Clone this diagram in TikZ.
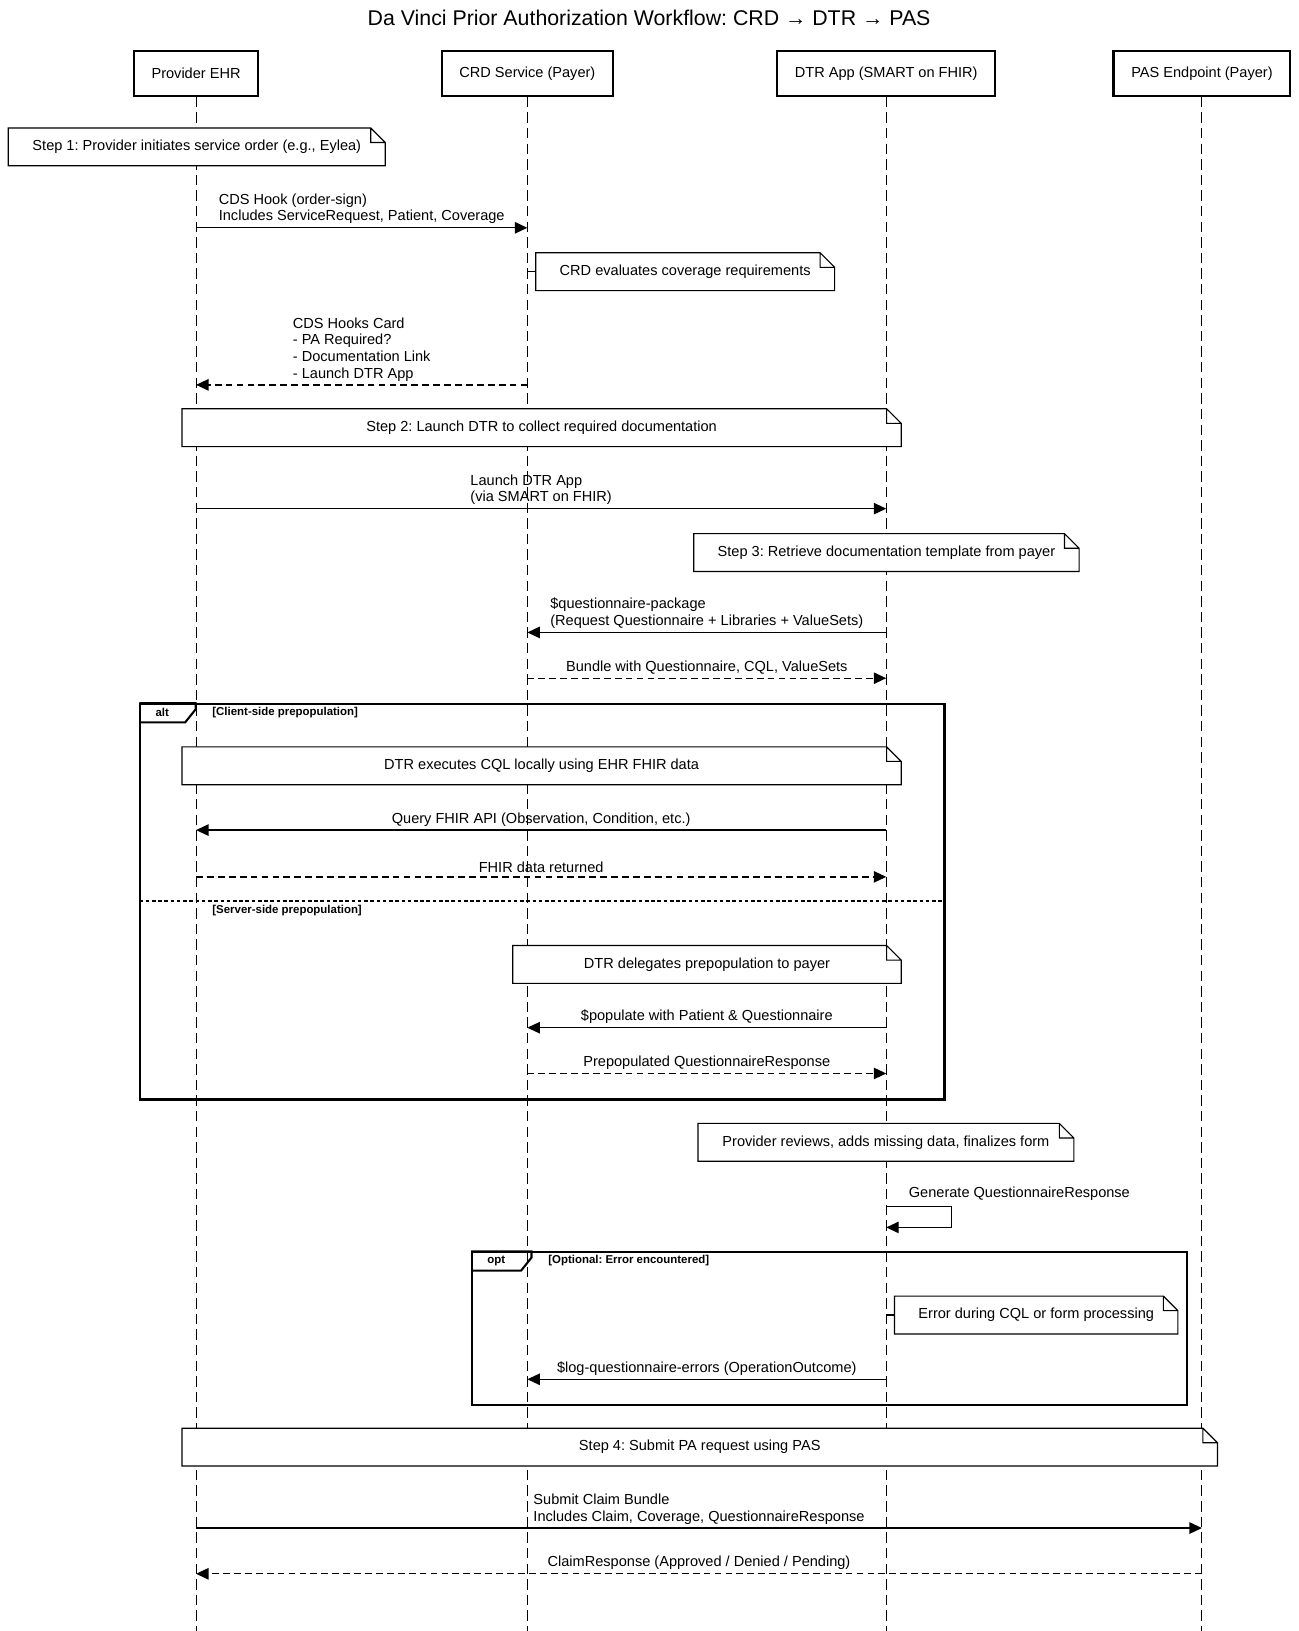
\documentclass[tikz,border=0pt]{standalone}
\usepackage{fontspec}
\setmainfont{Liberation Sans}
\usetikzlibrary{arrows.meta,positioning}
\frenchspacing
\tikzstyle{actor}=[rectangle,
	draw,
	line width=2.2pt,
	minimum height=43pt,
	inner xsep=17pt,
	font=\fontsize{14}{16}\selectfont]
\tikzstyle{lifeline}=[line width=1pt,
	dash pattern=on 10pt off 5pt]
\tikzstyle{note}=[rectangle,
	anchor=north west,
	minimum height=36pt,
	inner sep=0pt,
	font=\fontsize{14}{16}\selectfont,
	append after command={\pgfextra{\draw[line width=1.1pt, fill=white]
		(\tikzlastnode.north west) -- ([xshift=-14pt]\tikzlastnode.north east)
		-- ([yshift=-14pt]\tikzlastnode.north east) -- (\tikzlastnode.south east)
		-- (\tikzlastnode.south west) -- cycle
		([xshift=-14pt]\tikzlastnode.north east) |- ([yshift=-14pt]\tikzlastnode.north east);}}]
\tikzstyle{msg}=[line width=1.3pt,
	-{Triangle[length=12pt,width=11pt]}]
\tikzstyle{reply}=[msg,
	dash pattern=on 6.5pt off 4pt]
\tikzstyle{msgtext}=[inner sep=0pt,
	align=left,
	font=\fontsize{14}{16}\selectfont]
\tikzstyle{frame}=[draw,
	line width=2pt]
\tikzstyle{cond}=[inner sep=0pt,
	anchor=west,
	font=\bfseries\fontsize{11}{13}\selectfont]
\begin{document}
\begin{tikzpicture}[x=1pt,y=-1pt]
	\useasboundingbox (0,0) rectangle (1248,1568);
	\node (title) at (624,17) {\fontsize{20.5}{24}\selectfont Da Vinci Prior Authorization Workflow: CRD → DTR → PAS};

	% participants
	\node (ehr) [actor] at (188.5,70.5) {Provider EHR};
	\node (crd) [actor] at (507,70.5) {CRD Service (Payer)};
	\node (dtr) [actor] at (852,70.5) {DTR App (SMART on FHIR)};
	\node (pas) [actor] at (1155.5,70.5) {PAS Endpoint (Payer)};
	\foreach \p in {ehr,crd,dtr,pas}
		\draw[lifeline] (\p.south) -- (\p |- 0,1568);

	% step 1
	\node (step1) [note, minimum width=362pt] at (8,123) {Step 1: Provider initiates service order (e.g., Eylea)};
	\draw[msg] (ehr |- 0,219) -- (crd |- 0,219)
		node[msgtext, midway, above=3pt] {CDS Hook (order-sign)\\Includes ServiceRequest, Patient, Coverage};
	\node (evalnote) [note, minimum width=287pt] at (515,243) {CRD evaluates coverage requirements};
	\draw[line width=1pt] (crd |- evalnote.west) -- (evalnote.west);
	\draw[reply] (crd |- 0,370) -- (ehr |- 0,370)
		node[msgtext, midway, above=3pt] {CDS Hooks Card\\- PA Required?\\- Documentation Link\\- Launch DTR App};

	% step 2
	\node (step2) [note, minimum width=691pt] at (175,393) {Step 2: Launch DTR to collect required documentation};
	\draw[msg] (ehr |- 0,489) -- (dtr |- 0,489)
		node[msgtext, midway, above=3pt] {Launch DTR App\\(via SMART on FHIR)};

	% step 3
	\node (step3) [note, minimum width=370pt] at (667,513) {Step 3: Retrieve documentation template from payer};
	\draw[msg] (dtr |- 0,608) -- (crd |- 0,608)
		node[msgtext, midway, above=3pt] {\$questionnaire-package\\(Request Questionnaire + Libraries + ValueSets)};
	\draw[reply] (crd |- 0,652) -- (dtr |- 0,652)
		node[msgtext, midway, above=3pt] {Bundle with Questionnaire, CQL, ValueSets};

	% alt: client / server prepopulation
	\node (alt) [frame, anchor=north west, minimum width=773pt, minimum height=380pt] at (134,676) {};
	\draw[frame] (alt.north west) -- ++(54,0) -- ++(0,6) -- ++(-10,12.5) -- ++(-44,0);
	\node[cond, anchor=center] at (156,685) {alt};
	\node[cond] at (204,685) {[Client-side prepopulation]};
	\node (localcql) [note, minimum width=691pt] at (175,718) {DTR executes CQL locally using EHR FHIR data};
	\draw[msg] (dtr |- 0,798) -- (ehr |- 0,798)
		node[msgtext, midway, above=3pt] {Query FHIR API (Observation, Condition, etc.)};
	\draw[reply] (ehr |- 0,843) -- (dtr |- 0,843)
		node[msgtext, midway, above=3pt] {FHIR data returned};
	\draw[line width=1.5pt, dash pattern=on 3.5pt off 2.5pt] (alt.west |- 0,866) -- (alt.east |- 0,866);
	\node[cond] at (204,875) {[Server-side prepopulation]};
	\node (delegate) [note, minimum width=373pt] at (493,909) {DTR delegates prepopulation to payer};
	\draw[msg] (dtr |- 0,988) -- (crd |- 0,988)
		node[msgtext, midway, above=3pt] {\$populate with Patient \& Questionnaire};
	\draw[reply] (crd |- 0,1032) -- (dtr |- 0,1032)
		node[msgtext, midway, above=3pt] {Prepopulated QuestionnaireResponse};

	% review
	\node (review) [note, minimum width=361pt] at (671,1080) {Provider reviews, adds missing data, finalizes form};
	\draw[msg] (dtr |- 0,1160) -- ++(63,0) -- ++(0,20) -- (dtr |- 0,1180);
	\node[msgtext] at (980,1148) {Generate QuestionnaireResponse};

	% opt: errors
	\node (opt) [frame, anchor=north west, minimum width=687pt, minimum height=147pt] at (453,1203) {};
	\draw[frame] (opt.north west) -- ++(58,0) -- ++(0,6) -- ++(-10,12.5) -- ++(-48,0);
	\node[cond, anchor=center] at (477,1212) {opt};
	\node[cond] at (527,1212) {[Optional: Error encountered]};
	\node (errnote) [note, minimum width=272pt] at (860,1246) {Error during CQL or form processing};
	\draw[line width=1pt] (dtr |- errnote.west) -- (errnote.west);
	\draw[msg] (dtr |- 0,1326) -- (crd |- 0,1326)
		node[msgtext, midway, above=3pt] {\$log-questionnaire-errors (OperationOutcome)};

	% step 4
	\node (step4) [note, minimum width=995pt] at (175,1373) {Step 4: Submit PA request using PAS};
	\draw[msg] (ehr |- 0,1469) -- (pas |- 0,1469)
		node[msgtext, midway, above=3pt] {Submit Claim Bundle\\Includes Claim, Coverage, QuestionnaireResponse};
	\draw[reply] (pas |- 0,1513) -- (ehr |- 0,1513)
		node[msgtext, midway, above=3pt] {ClaimResponse (Approved / Denied / Pending)};
\end{tikzpicture}
\end{document}
